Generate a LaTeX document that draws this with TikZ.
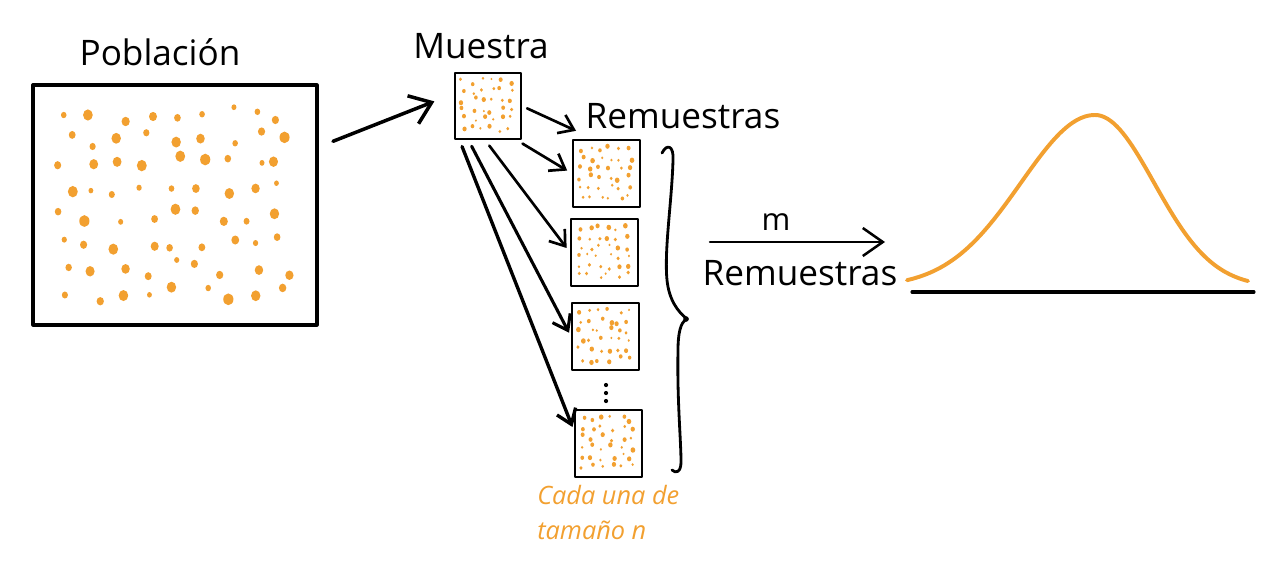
\documentclass[tikz,border=0pt]{standalone}
\usepackage{fontspec}
\setmainfont{Open Sans}
\usetikzlibrary{arrows.meta,calc}

\definecolor{spotorange}{RGB}{242,160,48}

\tikzset{
  samplebox/.style={draw, line width=1.4pt, minimum width=1.675cm, minimum height=1.675cm, inner sep=0pt},
  spot/.style={fill=spotorange},
  title/.style={font=\fontsize{25}{30}\selectfont, inner sep=0pt},
  bigarrow/.style={line width=2.5pt, -{Straight Barb[length=5mm,width=7.5mm]}},
  smallarrow/.style={line width=1.9pt, -{Straight Barb[length=3.5mm,width=5mm]}},
  marrow/.style={line width=1.8pt, -{Straight Barb[length=5mm,width=7mm]}},
  curve/.style={draw=spotorange, line width=2.8pt},
  note/.style={text=spotorange, font=\itshape\fontsize{18}{25}\selectfont, align=left, inner sep=0pt},
}

% jittered grid of spots inside a box node
\newcommand{\spots}[6]{%
  \begin{scope}[shift={(#1.north west)}]
    \foreach \r in {1,...,#3}
      \foreach \c in {1,...,#2} {
        \pgfmathsetmacro\sx{#4*(0.07+0.86*(\c-0.5+0.33*rand)/#2)}
        \pgfmathsetmacro\sy{#5*(0.07+0.86*(\r-0.5+0.33*rand)/#3)}
        \pgfmathsetmacro\sr{#6*(0.45+0.55*rnd)}
        \fill[spot] (\sx,\sy) ellipse[x radius=\sr pt, y radius=1.15*\sr pt];
      }
  \end{scope}}

\begin{document}
\begin{tikzpicture}[x=0.025cm, y=-0.025cm, line cap=round, line join=round]
    \useasboundingbox (0,0) rectangle (1286,561);
    \pgfmathsetseed{7}

    % population and sample
    \node[draw, line width=2.2pt, minimum width=7.1cm, minimum height=6cm] (pop) at (175,205) {};
    \node[title] (poplabel) at (160,52) {Población};
    \spots{pop}{9}{8}{284}{240}{3.7}

    \node[samplebox, minimum width=1.65cm, minimum height=1.65cm] (smp) at (488,106) {};
    \node[title] (smplabel) at (481,46) {Muestra};
    \spots{smp}{6}{6}{66}{66}{1.6}

    \draw[bigarrow, shorten <=11pt, shorten >=15pt] (pop.22) -- (smp.160);

    % resamples
    \node[samplebox] (r1) at (606.5,173.5) {};
    \node[samplebox] (r2) at (604.5,252.5) {};
    \node[samplebox] (r3) at (605.5,336.5) {};
    \node[samplebox] (r4) at (608.5,443.5) {};
    \foreach \b in {r1,r2,r3,r4} {
        \spots{\b}{6}{6}{67}{67}{1.7}
    }
    \foreach \y in {385,393,401} {
        \fill (606,\y) circle[radius=1.5pt];
    }
    \node[title] (rlabel) at (683,116) {Remuestras};

    \draw[smallarrow, shorten <=4pt, shorten >=14pt] (smp.east) -- (r1.110);
    \draw[smallarrow, shorten <=5pt, shorten >=4pt] (smp.-50) -- (r1.west);
    \draw[smallarrow, shorten <=5pt, shorten >=4pt] (smp.-95) -- (r2.west);
    \draw[smallarrow, line width=2.2pt, shorten <=5pt, shorten >=3pt] (smp.-120) -- (r3.west);
    \draw[smallarrow, line width=2.4pt, shorten <=5pt, shorten >=3pt] (smp.-130) -- (r4.160);

    % brace
    \draw[line width=2pt] (662,153) .. controls (667,143) and (674,146) .. (673,160)
        .. controls (672,200) and (664,250) .. (667,280)
        .. controls (669,300) and (678,312) .. (687,319)
        .. controls (680,322) and (678,335) .. (678,350)
        .. controls (677,400) and (681,440) .. (681,462)
        .. controls (681,472) and (676,474) .. (672,470);
    \fill (686,319) circle[radius=2pt];

    \node[note, anchor=north west] (note) at (537,485) {Cada una de\\tamaño n};

    % m resamples to distribution
    \coordinate (mstart) at (710,242);
    \coordinate (mend) at (885,242);
    \draw[marrow] (mstart) -- (mend);
    \node[font=\fontsize{22}{26}\selectfont, inner sep=0pt] (mlabel) at (776,222) {m};
    \node[title] (mcount) at (800,273) {Remuestras};

    \draw[curve] plot[domain=907:1095, samples=60] (\x, {287-172*exp(-0.5*((\x-1095)/74)^2)})
        -- plot[domain=1095:1248, samples=50] (\x, {287-172*exp(-0.5*((\x-1095)/59)^2)});
    \draw[line width=2.2pt] (912,292) -- (1254,292);

\end{tikzpicture}
\end{document}
